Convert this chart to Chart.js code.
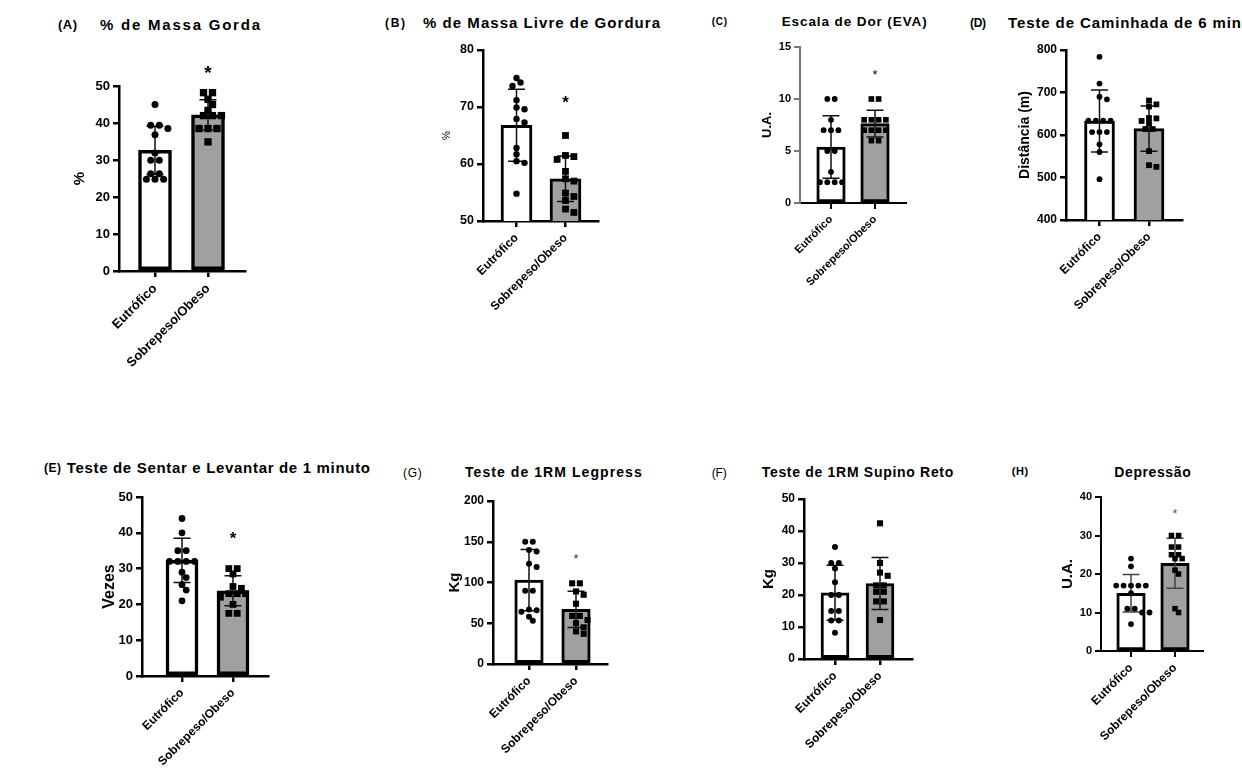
<!DOCTYPE html>
<html><head><meta charset="utf-8">
<script src="https://cdn.jsdelivr.net/npm/chart.js@4.4.0/dist/chart.umd.min.js"></script>
<style>
html,body{margin:0;padding:0;background:#fff;}
body{width:1242px;height:773px;position:relative;overflow:hidden;}
canvas{position:absolute;}
.t{position:absolute;white-space:nowrap;color:#000;}
</style></head><body>
<script>
const FONT = '"Liberation Sans", Arial, sans-serif';
const categories = ['Eutrófico', 'Sobrepeso/Obeso'];

// (A) % de Massa Gorda
const gordaEutrofico = [45, 39.4, 39.4, 38.5, 36.8, 31.9, 29.9, 29.9, 26.3, 26.3, 24.8, 24.8, 24.8];
const gordaSobrepeso = [48.2, 48.2, 46.4, 45, 43.4, 42, 42, 42, 38.5, 38.5, 38.5, 34.9];
const gordaMean = [32.6, 42.2];
const gordaSD = [6.5, 4.1];
const gordaTicks = [0, 10, 20, 30, 40, 50];
const gordaStar = 54.8;

// (B) % de Massa Livre de Gordura
const livreEutrofico = [75.1, 74.3, 73.7, 71.2, 69.9, 69.6, 67.9, 67.3, 62.8, 61.7, 60.5, 60.2, 54.8];
const livreSobrepeso = [65.0, 61.5, 61.3, 60.8, 58.7, 57.4, 57.0, 54.9, 54.3, 53.6, 52.1, 51.5];
const livreMean = [66.8, 57.4];
const livreSD = [6.3, 4.0];
const livreTicks = [50, 60, 70, 80];
const livreStar = 71.6;

// (C) Escala de Dor (EVA)
const dorEutrofico = [10, 10, 8, 7, 7, 7, 5, 5, 3, 2, 2, 2, 2];
const dorSobrepeso = [10, 10, 8, 8, 8, 8, 7, 7, 7, 7, 6, 6];
const dorMean = [5.38, 7.63];
const dorSD = [3.0, 1.28];
const dorTicks = [0, 5, 10, 15];
const dorStar = 12.66;

// (D) Teste de Caminhada de 6 min
const caminhadaEutrofico = [784, 721, 690, 684, 634, 634, 634, 634, 607, 607, 607, 578, 560, 496];
const caminhadaSobrepeso = [681, 672, 667, 640, 639, 633, 627, 614, 614, 562, 529, 525];
const caminhadaMean = [633, 615];
const caminhadaSD = [73, 53];
const caminhadaTicks = [400, 500, 600, 700, 800];
const caminhadaStar = null;

// (E) Teste de Sentar e Levantar de 1 minuto
const sentarEutrofico = [44, 40, 35, 35, 32, 32, 32, 32, 29, 27.5, 25.5, 24, 21];
const sentarSobrepeso = [30, 30, 28.5, 25, 24.5, 23, 23, 23, 22, 20, 17.5, 17.5];
const sentarMean = [32.3, 23.8];
const sentarSD = [6.2, 4.2];
const sentarTicks = [0, 10, 20, 30, 40, 50];
const sentarStar = 39.6;

// (G) Teste de 1RM Legpress
const legpressEutrofico = [150, 150, 140, 138, 123, 119, 90, 90, 67, 66, 64, 58, 53];
const legpressSobrepeso = [99, 99, 89, 85, 74, 59, 59, 54, 50, 45, 40, 37];
const legpressMean = [103, 67];
const legpressSD = [37.6, 22.3];
const legpressTicks = [0, 50, 100, 150, 200];
const legpressStar = 133.7;

// (F) Teste de 1RM Supino Reto
const supinoEutrofico = [35, 30, 30, 28.3, 24, 20, 20, 15, 15, 12, 12, 8.2];
const supinoSobrepeso = [42.4, 30, 27, 26, 23, 23, 21, 21, 18, 18, 12.2];
const supinoMean = [20.7, 23.6];
const supinoSD = [8.6, 8.1];
const supinoTicks = [0, 10, 20, 30, 40, 50];
const supinoStar = null;

// (H) Depressão
const depressaoEutrofico = [24, 22, 17, 17, 17, 17, 17, 15, 11, 11, 10, 10, 7];
const depressaoSobrepeso = [30, 30, 27, 27, 25, 25, 24, 24, 21, 20, 11, 10];
const depressaoMean = [15.0, 22.8];
const depressaoSD = [4.9, 6.5];
const depressaoTicks = [0, 10, 20, 30, 40];
const depressaoStar = 36.5;

const panels = [
  { letter:'(A)', title:'% de Massa Gorda', yTitle:'%', eut:gordaEutrofico, sob:gordaSobrepeso, mean:gordaMean, sd:gordaSD, ticks:gordaTicks, star:gordaStar,
    geo:{axisX:119, right:245, top:86, bottom:271, t0:155, t1:208, barW:33, titleX:80},
    sty:{ytSize:15, ytWeight:'bold', tick:13, cat:13, rC:3.5, rS:5.2, border:3.5, axisW:2.5, yAxisColor:'#000', errColor:'#111', starSize:19, starColor:'#000', starWeight:'bold'},
    lab:{l:[58,77,25,13,'bold'], t:[100,260,25,15,'bold']} },
  { letter:'(B)', title:'% de Massa Livre de Gordura', yTitle:'%', eut:livreEutrofico, sob:livreSobrepeso, mean:livreMean, sd:livreSD, ticks:livreTicks, star:livreStar,
    geo:{axisX:483, right:598, top:50, bottom:221, t0:516.5, t1:565.5, barW:31, titleX:447},
    sty:{ytSize:10, ytWeight:'normal', tick:12.5, cat:12, rC:3.2, rS:4.8, border:3, axisW:2.5, yAxisColor:'#000', errColor:'#111', starSize:17, starColor:'#000', starWeight:'bold'},
    lab:{l:[385,405,23,12,'bold'], t:[423,660,23,15,'bold']} },
  { letter:'(C)', title:'Escala de Dor (EVA)', yTitle:'U.A.', eut:dorEutrofico, sob:dorSobrepeso, mean:dorMean, sd:dorSD, ticks:dorTicks, star:dorStar,
    geo:{axisX:800, right:906, top:47, bottom:203, t0:831, t1:875, barW:28.5, titleX:768},
    sty:{ytSize:13, ytWeight:'bold', tick:11, cat:11, rC:2.9, rS:4.0, border:3, axisW:2, yAxisColor:'#777', errColor:'#111', starSize:13, starColor:'#000', starWeight:'normal'},
    lab:{l:[711.7,727,21.7,10,'bold'], t:[781.7,926.7,22,13.5,'bold']} },
  { letter:'(D)', title:'Teste de Caminhada de 6 min', yTitle:'Distância (m)', eut:caminhadaEutrofico, sob:caminhadaSobrepeso, mean:caminhadaMean, sd:caminhadaSD, ticks:caminhadaTicks, star:caminhadaStar,
    geo:{axisX:1066, right:1182, top:50, bottom:220, t0:1099.5, t1:1149, barW:30, titleX:1025},
    sty:{ytSize:14, ytWeight:'bold', tick:12, cat:12, rC:2.9, rS:4.1, border:3, axisW:2.5, yAxisColor:'#000', errColor:'#111', starSize:14, starColor:'#000', starWeight:'bold'},
    lab:{l:[970,986,23,12,'bold'], t:[1008,1241,23,15,'bold']} },
  { letter:'(E)', title:'Teste de Sentar e Levantar de 1 minuto', yTitle:'Vezes', eut:sentarEutrofico, sob:sentarSobrepeso, mean:sentarMean, sd:sentarSD, ticks:sentarTicks, star:sentarStar,
    geo:{axisX:142, right:268, top:497, bottom:676, t0:182, t1:233, barW:32, titleX:110},
    sty:{ytSize:16, ytWeight:'bold', tick:13, cat:12, rC:3.4, rS:4.8, border:3.5, axisW:2.5, yAxisColor:'#000', errColor:'#111', starSize:17, starColor:'#000', starWeight:'bold'},
    lab:{l:[44,61,468.3,12,'bold'], t:[66.7,370,468,15,'bold']} },
  { letter:'(G)', title:'Teste de 1RM Legpress', yTitle:'Kg', eut:legpressEutrofico, sob:legpressSobrepeso, mean:legpressMean, sd:legpressSD, ticks:legpressTicks, star:legpressStar,
    geo:{axisX:493, right:607, top:501, bottom:664, t0:529, t1:576, barW:28.5, titleX:455},
    sty:{ytSize:15, ytWeight:'bold', tick:12, cat:12, rC:3.0, rS:4.3, border:3, axisW:2.5, yAxisColor:'#000', errColor:'#111', starSize:13, starColor:'#333', starWeight:'normal'},
    lab:{l:[403,421.7,473,12,'normal'], t:[465,641.7,473,14,'bold']} },
  { letter:'(F)', title:'Teste de 1RM Supino Reto', yTitle:'Kg', eut:supinoEutrofico, sob:supinoSobrepeso, mean:supinoMean, sd:supinoSD, ticks:supinoTicks, star:supinoStar,
    geo:{axisX:804, right:912, top:499, bottom:659, t0:835, t1:880, barW:28, titleX:769},
    sty:{ytSize:15, ytWeight:'bold', tick:12, cat:12, rC:3.0, rS:4.3, border:3, axisW:2.5, yAxisColor:'#000', errColor:'#111', starSize:13, starColor:'#000', starWeight:'normal'},
    lab:{l:[711.7,726.7,473,12,'normal'], t:[761.7,953.3,473,14,'bold']} },
  { letter:'(H)', title:'Depressão', yTitle:'U.A.', eut:depressaoEutrofico, sob:depressaoSobrepeso, mean:depressaoMean, sd:depressaoSD, ticks:depressaoTicks, star:depressaoStar,
    geo:{axisX:1101, right:1203, top:497, bottom:651, t0:1131, t1:1175, barW:28.5, titleX:1068},
    sty:{ytSize:15, ytWeight:'bold', tick:11, cat:12, rC:2.9, rS:3.9, border:3, axisW:2, yAxisColor:'#000', errColor:'#444', starSize:13, starColor:'#555', starWeight:'normal'},
    lab:{l:[1011.7,1028.3,472.3,11,'bold'], t:[1114.3,1190.7,473,14,'bold']} }
];

function addText(txt, x1, x2, yc, size, weight) {
  const el = document.createElement('div');
  el.className = 't';
  el.textContent = txt;
  el.style.font = weight + ' ' + size + 'px ' + FONT;
  el.style.lineHeight = '1.2';
  el.style.left = x1 + 'px';
  el.style.top = (yc - 0.62 * size) + 'px';
  document.body.appendChild(el);
  const w = el.getBoundingClientRect().width;
  const n = [...txt].length;
  if (n > 1) el.style.letterSpacing = Math.max(-0.5, ((x2 - x1) - w) / (n - 1)) + 'px';
}

// Prism-like swarm: identical values centred in a row, others shifted to avoid overlap
// he = half extent of the marker in px
function swarm(values, center, he, pxPerX, pxPerY) {
  const placed = [];
  const d = 1.85 * he;
  const s = 2 * he + 1.6;
  const groups = [];
  values.forEach(v => {
    let gr = groups.find(q => q.v === v);
    if (!gr) { gr = {v: v, n: 0}; groups.push(gr); }
    gr.n++;
  });
  groups.forEach(gr => {
    const yPx = gr.v * pxPerY;
    let best = null;
    for (let k = 0; k < 60 && best === null; k++) {
      const c = (k % 2 ? 1 : -1) * Math.ceil(k / 2) * s / 2;
      const xs = [];
      for (let i = 0; i < gr.n; i++) xs.push(c + (i - (gr.n - 1) / 2) * s);
      if (xs.every(x => placed.every(p => (p.x - x) ** 2 + (p.y - yPx) ** 2 >= d * d))) best = xs;
    }
    best.forEach(x => placed.push({x: x, y: yPx}));
  });
  return placed.map(p => ({x: center + p.x / pxPerX, y: p.y / pxPerY}));
}

function errData(mean, sd, capU) {
  const out = [];
  [0, 1].forEach(i => {
    const hi = mean[i] + sd[i], lo = mean[i] - sd[i];
    out.push({x: i - capU, y: hi}, {x: i + capU, y: hi}, {x: i + capU, y: null},
             {x: i, y: hi}, {x: i, y: lo}, {x: i, y: null},
             {x: i - capU, y: lo}, {x: i + capU, y: lo}, {x: i + capU, y: null});
  });
  return out;
}

const starPlugin = {
  id: 'star',
  afterDatasetsDraw(chart, args, opts) {
    if (opts.value === null || opts.value === undefined) return;
    const ctx = chart.ctx, x = chart.scales.x, y = chart.scales.y;
    ctx.save();
    ctx.font = opts.weight + ' ' + opts.size + 'px ' + FONT;
    ctx.fillStyle = opts.color;
    ctx.textAlign = 'center';
    ctx.textBaseline = 'alphabetic';
    ctx.fillText('*', x.getPixelForValue(1), y.getPixelForValue(opts.value) + opts.size * 0.58);
    ctx.restore();
  }
};

function makePanel(p) {
  const g = p.geo, st = p.sty;
  addText(p.letter, p.lab.l[0], p.lab.l[1], p.lab.l[2], p.lab.l[3], p.lab.l[4]);
  addText(p.title, p.lab.t[0], p.lab.t[1], p.lab.t[2], p.lab.t[3], p.lab.t[4]);

  const padTop = 30, padRight = 14, xAxisH = 110;
  const lh = st.ytSize * 1.2;
  const cLeft = Math.round(g.titleX - lh / 2);
  const cTop = g.top - padTop;
  const W = g.right - cLeft + padRight;
  const H = g.bottom - g.top + padTop + xAxisH;
  const yAxisW = g.axisX - cLeft;
  const canvas = document.createElement('canvas');
  canvas.width = W; canvas.height = H;
  canvas.style.left = cLeft + 'px'; canvas.style.top = cTop + 'px';
  canvas.style.width = W + 'px'; canvas.style.height = H + 'px';
  document.body.appendChild(canvas);

  const unit = g.t1 - g.t0;
  const xmin = -(g.t0 - g.axisX) / unit;
  const xmax = 1 + (g.right - g.t1) / unit;
  const ymin = p.ticks[0], ymax = p.ticks[p.ticks.length - 1];
  const pxPerY = (g.bottom - g.top) / (ymax - ymin);
  const capU = 8.5 / unit;

  new Chart(canvas, {
    type: 'bar',
    data: {
      datasets: [
        { type: 'scatter', data: swarm(p.eut, 0, st.rC, unit, pxPerY), pointStyle: 'circle', pointRadius: st.rC,
          backgroundColor: '#000', borderWidth: 0, order: 1 },
        { type: 'scatter', data: swarm(p.sob, 1, st.rS * Math.SQRT1_2, unit, pxPerY), pointStyle: 'rect', pointRadius: st.rS,
          backgroundColor: '#000', borderWidth: 0, order: 1 },
        { type: 'line', data: errData(p.mean, p.sd, capU), borderColor: st.errColor, borderWidth: 1.5,
          pointRadius: 0, spanGaps: false, fill: false, tension: 0, order: 2 },
        { type: 'bar', data: [{x: 0, y: p.mean[0]}, {x: 1, y: p.mean[1]}], backgroundColor: ['#ffffff', '#a0a0a0'],
          borderColor: '#000', borderWidth: st.border, borderSkipped: false, barThickness: g.barW, order: 3 }
      ]
    },
    options: {
      responsive: false, animation: false, devicePixelRatio: 1,
      layout: { padding: { top: padTop, right: padRight, left: 0, bottom: 0 } },
      plugins: { legend: { display: false }, tooltip: { enabled: false },
        star: { value: p.star, size: st.starSize, color: st.starColor, weight: st.starWeight } },
      scales: {
        x: { type: 'linear', min: xmin, max: xmax, offset: false,
          afterFit: s => { s.height = xAxisH; },
          afterBuildTicks: s => { s.ticks = [{value: 0}, {value: 1}]; },
          grid: { display: true, offset: false, drawOnChartArea: false, drawTicks: true, tickLength: 6,
                  tickWidth: st.axisW, tickColor: '#000', color: '#000', lineWidth: st.axisW },
          border: { display: true, color: '#000', width: st.axisW },
          ticks: { autoSkip: false, minRotation: 45, maxRotation: 45, padding: 4, color: '#000',
                   font: { family: FONT, size: st.cat, weight: 'bold' },
                   callback: v => categories[v] }
        },
        y: { type: 'linear', min: ymin, max: ymax,
          afterFit: s => { s.width = yAxisW; },
          afterBuildTicks: s => { s.ticks = p.ticks.map(v => ({value: v})); },
          grid: { display: true, drawOnChartArea: false, drawTicks: true, tickLength: 6,
                  tickWidth: st.axisW, tickColor: st.yAxisColor, color: st.yAxisColor, lineWidth: st.axisW },
          border: { display: true, color: st.yAxisColor, width: st.axisW },
          ticks: { padding: 3, color: '#000', font: { family: FONT, size: st.tick, weight: 'bold' } },
          title: { display: true, text: p.yTitle, color: '#000', padding: 0,
                   font: { family: FONT, size: st.ytSize, weight: st.ytWeight } }
        }
      }
    },
    plugins: [starPlugin]
  });
}

panels.forEach(makePanel);
</script>
</body></html>
